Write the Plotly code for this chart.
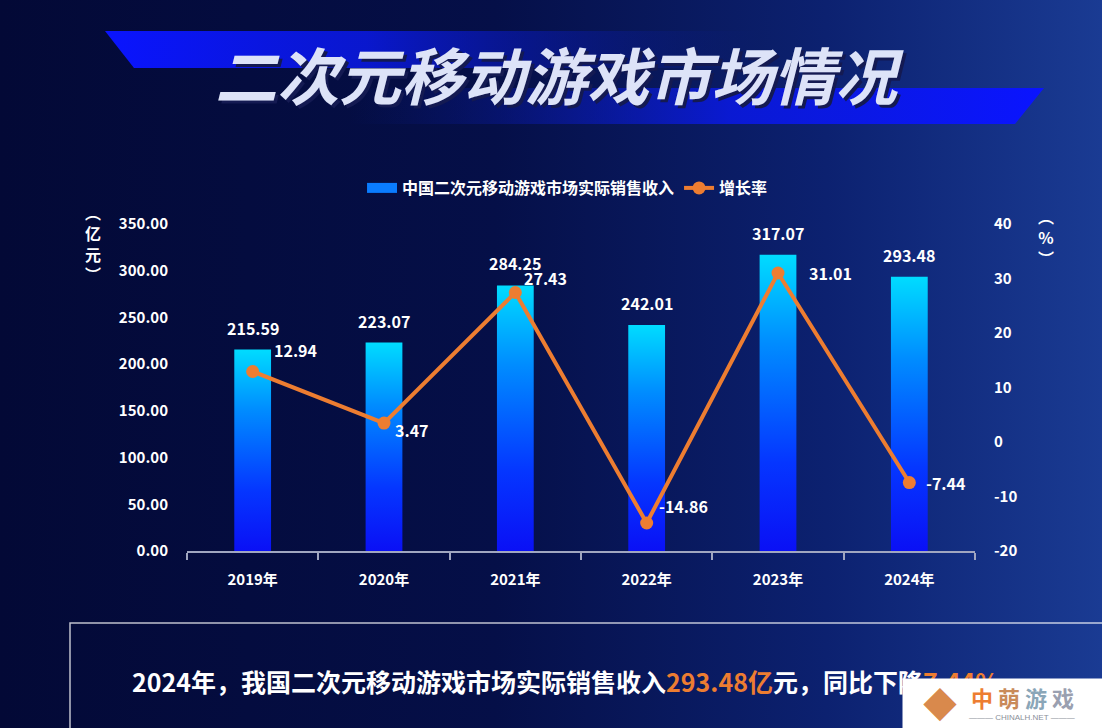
import plotly.graph_objects as go

# data
years = ['2019年', '2020年', '2021年', '2022年', '2023年', '2024年']
revenue = [215.59, 223.07, 284.25, 242.01, 317.07, 293.48]   # 亿元
growth = [12.94, 3.47, 27.43, -14.86, 31.01, -7.44]          # %
left_ticks = [0, 50, 100, 150, 200, 250, 300, 350]
right_ticks = [-20, -10, 0, 10, 20, 30, 40]

W, H = 1102, 728
FONT = 'Noto Sans CJK SC'
ORANGE = '#ED7D31'
BAR_W = 0.28
# pixel offsets of the growth labels from their markers
growth_dx = [19, 9, 7, 10, 29, 15]
growth_dy = [21, -7, 15, 17, 0, 0]

fig = go.Figure()

# --- background (pixel coords on hidden x/y axes) ---
fig.add_trace(go.Scatter(
    x=[0, W, W, 0, 0], y=[0, 0, H, H, 0], mode='lines', fill='toself',
    line=dict(width=0), hoverinfo='skip', showlegend=False,
    fillgradient=dict(type='horizontal', colorscale=[
        [0, '#030936'], [0.45, '#050f48'], [0.75, '#0c2170'], [1, '#1a3b93']]),
))
# title bands
fig.add_trace(go.Scatter(
    x=[105, 760, 760, 134, 105], y=[31, 31, 68, 68, 31], mode='lines', fill='toself',
    line=dict(width=0), hoverinfo='skip', showlegend=False,
    fillgradient=dict(type='horizontal', colorscale=[
        [0, 'rgba(10,20,255,1)'], [0.4, 'rgba(10,25,230,0.85)'], [1, 'rgba(10,30,150,0)']]),
))
fig.add_trace(go.Scatter(
    x=[350, 1044, 1015, 350, 350], y=[88, 88, 124, 124, 88], mode='lines', fill='toself',
    line=dict(width=0), hoverinfo='skip', showlegend=False,
    fillgradient=dict(type='horizontal', colorscale=[
        [0, 'rgba(10,30,150,0)'], [0.55, 'rgba(10,25,230,0.85)'], [1, 'rgba(10,20,255,1)']]),
))

# legend swatch for the bars (wide line looks like the gradient block)
fig.add_trace(go.Scatter(
    x=[None], y=[None], mode='lines', name='中国二次元移动游戏市场实际销售收入',
    line=dict(color='#0a7cff', width=12), xaxis='x2', yaxis='y2',
))

# --- bars as gradient filled rectangles ---
bar_scale = [[0, '#0a10f5'], [0.3, '#0536ff'], [0.7, '#008cff'], [1, '#00dcff']]
for i, v in enumerate(revenue):
    fig.add_trace(go.Scatter(
        x=[i - BAR_W / 2, i + BAR_W / 2, i + BAR_W / 2, i - BAR_W / 2, i - BAR_W / 2],
        y=[0, 0, v, v, 0], mode='lines', fill='toself', line=dict(width=0),
        fillgradient=dict(type='vertical', colorscale=bar_scale),
        showlegend=False, hoverinfo='skip', xaxis='x2', yaxis='y2',
    ))

# growth line
fig.add_trace(go.Scatter(
    x=list(range(len(years))), y=growth, mode='lines+markers', name='增长率',
    line=dict(color=ORANGE, width=4), marker=dict(color=ORANGE, size=13),
    xaxis='x2', yaxis='y3',
))

label_font = dict(family=FONT, size=16, color='white', weight='bold')
for i, v in enumerate(revenue):
    fig.add_annotation(x=i, y=v, xref='x2', yref='y2', text=f'{v:.2f}', showarrow=False,
                       yanchor='bottom', yshift=8, font=label_font)
for i, g in enumerate(growth):
    fig.add_annotation(x=i, y=g, xref='x2', yref='y3', text=f'{g:.2f}', showarrow=False,
                       xanchor='left', xshift=growth_dx[i], yshift=growth_dy[i], font=label_font)

dom_x = [187 / W, 975 / W]
dom_y = [(H - 551) / H, (H - 224) / H]
tick_font = dict(family=FONT, size=15, color='white', weight='bold')

fig.update_layout(
    width=W, height=H,
    margin=dict(l=0, r=0, t=0, b=0, pad=0, autoexpand=False),
    paper_bgcolor='#030936', plot_bgcolor='rgba(0,0,0,0)',
    xaxis=dict(domain=[0, 1], range=[0, W], visible=False, fixedrange=True, automargin=False),
    yaxis=dict(domain=[0, 1], range=[H, 0], visible=False, fixedrange=True, automargin=False),
    xaxis2=dict(
        domain=dom_x, anchor='y2', range=[-0.5, 5.5], automargin=False,
        tickvals=list(range(len(years))), ticktext=years, ticks='',
        showline=True, linecolor='#a0a6c0', linewidth=2, showgrid=False, zeroline=False,
        minor=dict(tick0=-0.5, dtick=1, ticks='outside', ticklen=7, tickcolor='#a0a6c0', tickwidth=2),
        tickfont=tick_font, ticklabelstandoff=14,
    ),
    yaxis2=dict(
        domain=dom_y, anchor='x2', range=[0, 350], automargin=False,
        tickvals=left_ticks, ticktext=[f'{t:.2f}' for t in left_ticks],
        showgrid=False, zeroline=False, showline=False, ticks='',
        tickfont=tick_font, ticklabelstandoff=18,
    ),
    yaxis3=dict(
        domain=dom_y, anchor='x2', overlaying='y2', side='right', range=[-20, 40], automargin=False,
        tickvals=right_ticks, ticktext=[str(t) for t in right_ticks],
        showgrid=False, zeroline=False, showline=False, ticks='',
        tickfont=tick_font, ticklabelstandoff=18,
    ),
    legend=dict(
        orientation='h', x=0.515, xanchor='center', y=(H - 188) / H, yanchor='middle',
        font=dict(family=FONT, size=16, color='white', weight='bold'),
        bgcolor='rgba(0,0,0,0)', itemwidth=30,
    ),
    showlegend=True,
)

title = '二次元移动游戏市场情况'
fig.add_annotation(x=562, y=76, xref='x', yref='y', text=f'<i><b>{title}</b></i>',
                   showarrow=False, font=dict(family=FONT, size=62, color='#141a52'))
fig.add_annotation(x=559, y=73, xref='x', yref='y', text=f'<i><b>{title}</b></i>',
                   showarrow=False, font=dict(family=FONT, size=62, color='#dde3f8'))

# axis unit labels
fig.add_annotation(x=93, y=243, xref='x', yref='y', text='︵<br>亿<br>元<br>︶',
                   showarrow=False, font=dict(family=FONT, size=16, color='white', weight='bold'))
fig.add_annotation(x=1046, y=237, xref='x', yref='y', text='︵<br>%<br>︶',
                   showarrow=False, font=dict(family=FONT, size=16, color='white', weight='bold'))

# bottom summary box
fig.add_shape(type='rect', xref='x', yref='y', x0=70, x1=1110, y0=623, y1=740,
              line=dict(color='rgba(255,255,255,0.75)', width=1.5), layer='above')
fig.add_annotation(
    x=130, y=681, xref='x', yref='y', xanchor='left', showarrow=False,
    text=(f'<b>2024年，我国二次元移动游戏市场实际销售收入'
          f'<span style="color:{ORANGE}">{revenue[-1]:.2f}亿</span>元，同比下降'
          f'<span style="color:{ORANGE}">{abs(growth[-1]):.2f}%</span></b>'),
    font=dict(family=FONT, size=25, color='white'),
)
# watermark
fig.add_annotation(
    x=902, y=678, xref='x', yref='y', xanchor='left', yanchor='top', showarrow=False,
    width=200, height=50, bgcolor='white', borderpad=0, text=' ',
    font=dict(family=FONT, size=10),
)
fig.add_annotation(x=940, y=703, xref='x', yref='y', showarrow=False, text='◆',
                   font=dict(family=FONT, size=34, color='#d9894c'))
fig.add_annotation(
    x=1022, y=697, xref='x', yref='y', showarrow=False,
    text=('<b><span style="color:#ED7D31">中</span> <span style="color:#c98a5a">萌</span> '
          '<span style="color:#8aa6b8">游</span> <span style="color:#9aa0b0">戏</span></b>'),
    font=dict(family=FONT, size=22),
)
fig.add_annotation(x=1022, y=717, xref='x', yref='y', showarrow=False,
                   text='——— CHINALH.NET ———', font=dict(family='Liberation Sans', size=8, color='#8a8f99'))

fig.write_html('out.html', config={'displayModeBar': False},
               post_script="document.body.style.margin='0';document.body.style.overflow='hidden';")
